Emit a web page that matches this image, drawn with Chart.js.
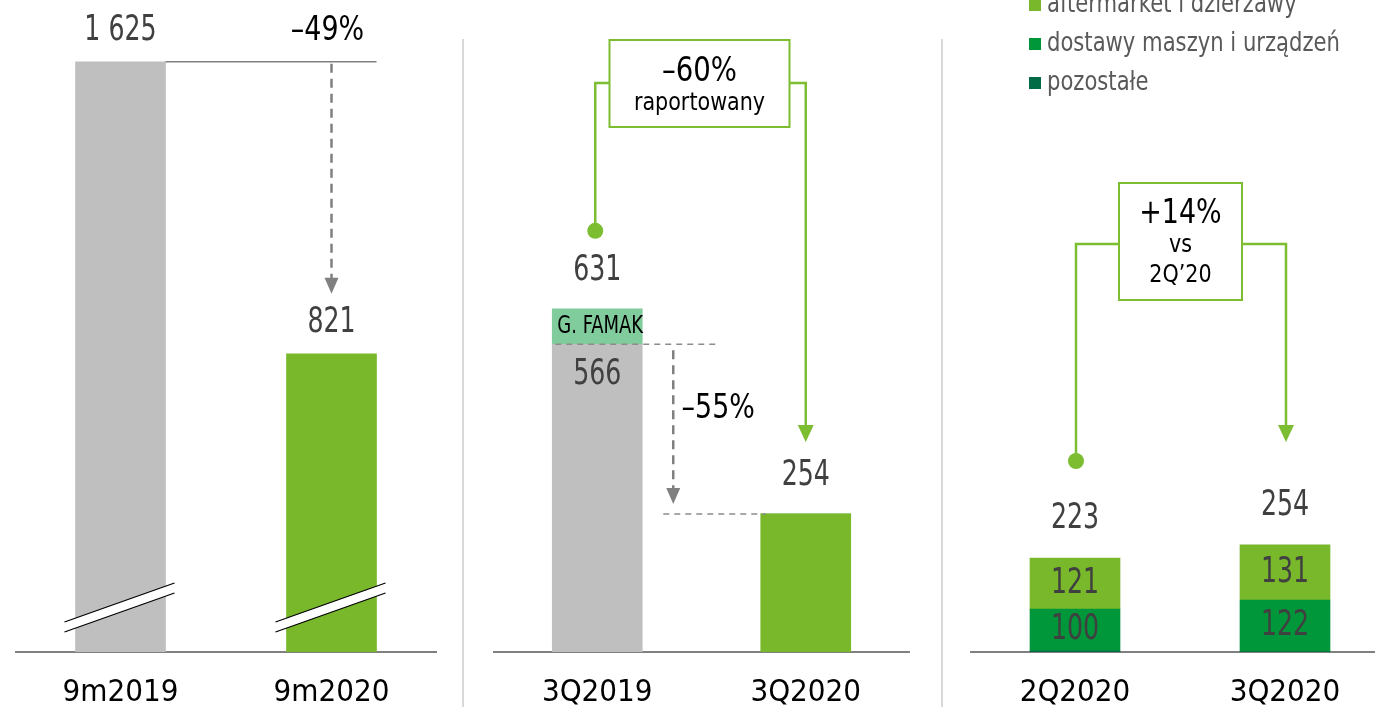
<!DOCTYPE html>
<html>
<head>
<meta charset="utf-8">
<script src="https://cdn.jsdelivr.net/npm/chart.js@4/dist/chart.umd.min.js"></script>
<style>
  html, body { margin: 0; padding: 0; background: #fff; overflow: hidden; }
  body { width: 1375px; height: 707px; position: relative; }
  canvas { position: absolute; top: 0; }
  .divider { position: absolute; top: 39px; width: 2px; height: 668px; background: #d9d9d9; }
</style>
</head>
<body>
<div class="divider" style="left:462px"></div>
<div class="divider" style="left:941px"></div>
<canvas id="c1" width="422" height="707" style="left:15px"></canvas>
<canvas id="c2" width="417" height="707" style="left:493px"></canvas>
<canvas id="c3" width="420" height="707" style="left:970px"></canvas>
<script>
// Dane - panel 1 (9 miesięcy)
const cats1 = ["9m2019", "9m2020"];
const vals1 = [1625, 821];
const valLabels1 = ["1 625", "821"];
const change1 = "–49%";

// Dane - panel 2 (kwartał r/r)
const cats2 = ["3Q2019", "3Q2020"];
const base2 = [566, 254];
const famak2 = [65, 0];
const totals2 = [631, 254];
const change2 = "–60%";
const change2Sub = "raportowany";
const change2Organic = "–55%";

// Dane - panel 3 (kwartał q/q)
const cats3 = ["2Q2020", "3Q2020"];
const aftermarket3 = [121, 131];
const dostawy3 = [100, 122];
const pozostale3 = [2, 1];
const totals3 = [223, 254];
const change3 = ["+14%", "vs", "2Q’20"];
const legendNames = ["aftermarket i dzierżawy", "dostawy maszyn i urządzeń", "pozostałe"];

const FONT = '"DejaVu Sans Condensed", "Liberation Sans Narrow", sans-serif';
const GRAY = "#bfbfbf";
const GREEN = "#78b82a";
const MINT = "#80cc9c";
const MID_GREEN = "#00963a";
const DARK_GREEN = "#006b45";
const LINE_GREEN = "#7cbd32";
const VAL_COLOR = "#404040";

// tekst zwężony poziomo (czcionka oryginału jest wąska)
function txt(ctx, s, x, y, size, color, squeeze = 0.85, align = "center") {
  ctx.save();
  ctx.translate(x, y);
  ctx.scale(squeeze, 1);
  ctx.font = size + "px " + FONT;
  ctx.fillStyle = color;
  ctx.textAlign = align;
  ctx.textBaseline = "middle";
  ctx.fillText(s, 0, 0);
  ctx.restore();
}

function num(ctx, s, x, y) {
  txt(ctx, s, x, y, 36, VAL_COLOR, 0.78);
}

function dashedArrow(ctx, x, y1, y2) {
  ctx.save();
  ctx.strokeStyle = "#808080";
  ctx.fillStyle = "#808080";
  ctx.lineWidth = 2.5;
  ctx.setLineDash([9, 6]);
  ctx.beginPath();
  ctx.moveTo(x, y1);
  ctx.lineTo(x, y2 - 14);
  ctx.stroke();
  ctx.setLineDash([]);
  ctx.beginPath();
  ctx.moveTo(x - 7, y2 - 16);
  ctx.lineTo(x + 7, y2 - 16);
  ctx.lineTo(x, y2);
  ctx.closePath();
  ctx.fill();
  ctx.restore();
}

function dashedLine(ctx, x1, x2, y) {
  ctx.save();
  ctx.strokeStyle = "#8c8c8c";
  ctx.lineWidth = 1.5;
  ctx.setLineDash([6, 5]);
  ctx.beginPath();
  ctx.moveTo(x1, y);
  ctx.lineTo(x2, y);
  ctx.stroke();
  ctx.restore();
}

// ramka z komentarzem i dwie zielone linie (kropka -> strzałka)
function bracket(ctx, box, lineY, xl, dotY, xr, tipY) {
  ctx.save();
  ctx.strokeStyle = LINE_GREEN;
  ctx.fillStyle = LINE_GREEN;
  ctx.lineWidth = 2.5;
  ctx.beginPath();
  ctx.moveTo(box.x, lineY);
  ctx.lineTo(xl, lineY);
  ctx.lineTo(xl, dotY);
  ctx.moveTo(box.x + box.w, lineY);
  ctx.lineTo(xr, lineY);
  ctx.lineTo(xr, tipY - 16);
  ctx.stroke();
  ctx.beginPath();
  ctx.arc(xl, dotY, 8, 0, Math.PI * 2);
  ctx.fill();
  ctx.beginPath();
  ctx.moveTo(xr - 8, tipY - 17);
  ctx.lineTo(xr + 8, tipY - 17);
  ctx.lineTo(xr, tipY);
  ctx.closePath();
  ctx.fill();
  ctx.lineWidth = 2;
  ctx.fillStyle = "#fff";
  ctx.fillRect(box.x, box.y, box.w, box.h);
  ctx.strokeRect(box.x, box.y, box.w, box.h);
  ctx.restore();
}

function breakMark(ctx, x, base) {
  ctx.save();
  ctx.fillStyle = "#fff";
  ctx.strokeStyle = "#000";
  ctx.lineWidth = 1.3;
  ctx.beginPath();
  ctx.moveTo(x - 56, base - 30);
  ctx.lineTo(x + 54, base - 69);
  ctx.lineTo(x + 54, base - 59);
  ctx.lineTo(x - 56, base - 20);
  ctx.closePath();
  ctx.fill();
  ctx.beginPath();
  ctx.moveTo(x - 56, base - 30);
  ctx.lineTo(x + 54, base - 69);
  ctx.moveTo(x - 56, base - 20);
  ctx.lineTo(x + 54, base - 59);
  ctx.stroke();
  ctx.restore();
}

function baseOptions(yMax, stacked) {
  return {
    responsive: false,
    devicePixelRatio: 1,
    animation: false,
    layout: { padding: 0 },
    plugins: { legend: { display: false }, tooltip: { enabled: false } },
    scales: {
      x: {
        stacked: stacked,
        grid: { display: false, drawTicks: false },
        border: { display: true, color: "#808080", width: 2 },
        ticks: { color: "#000", padding: 22, font: { family: FONT, size: 31 } },
        afterFit: (scale) => { scale.height = 55; }
      },
      y: { stacked: stacked, display: false, min: 0, max: yMax }
    }
  };
}

// Panel 1
new Chart(document.getElementById("c1"), {
  type: "bar",
  data: {
    labels: cats1,
    datasets: [{ data: vals1, backgroundColor: [GRAY, GREEN], barThickness: 90 }]
  },
  options: baseOptions(1795, false),
  plugins: [{
    id: "notes1",
    afterDatasetsDraw(chart) {
      const ctx = chart.ctx, xs = chart.scales.x, ys = chart.scales.y;
      const base = ys.getPixelForValue(0);
      const x0 = xs.getPixelForValue(0), x1 = xs.getPixelForValue(1);
      const top0 = ys.getPixelForValue(vals1[0]), top1 = ys.getPixelForValue(vals1[1]);
      breakMark(ctx, x0, base);
      breakMark(ctx, x1, base);
      ctx.save();
      ctx.strokeStyle = "#808080";
      ctx.lineWidth = 1.5;
      ctx.beginPath();
      ctx.moveTo(x0 + 45, top0);
      ctx.lineTo(x1 + 45, top0);
      ctx.stroke();
      ctx.restore();
      dashedArrow(ctx, x1, top0 + 2, top1 - 60);
      valLabels1.forEach((s, i) => num(ctx, s, xs.getPixelForValue(i), ys.getPixelForValue(vals1[i]) - 31));
      txt(ctx, change1, x1 - 4, top0 - 31, 34, "#000", 0.88);
    }
  }]
});

// Panel 2
new Chart(document.getElementById("c2"), {
  type: "bar",
  data: {
    labels: cats2,
    datasets: [
      { data: base2, backgroundColor: [GRAY, GREEN], barThickness: 90 },
      { data: famak2, backgroundColor: MINT, barThickness: 90 }
    ]
  },
  options: baseOptions(1199, true),
  plugins: [{
    id: "notes2",
    afterDatasetsDraw(chart) {
      const ctx = chart.ctx, xs = chart.scales.x, ys = chart.scales.y;
      const x0 = xs.getPixelForValue(0), x1 = xs.getPixelForValue(1);
      const yBase0 = ys.getPixelForValue(base2[0]);
      const yTot0 = ys.getPixelForValue(totals2[0]);
      const yTot1 = ys.getPixelForValue(totals2[1]);
      dashedLine(ctx, x0 - 42, x0 + 122, yBase0);
      dashedLine(ctx, x0 + 66, x1 - 40, yTot1);
      dashedArrow(ctx, x0 + 76, yBase0 + 6, yTot1 - 10);
      txt(ctx, change2Organic, x0 + 121, (yBase0 + yTot1) / 2 - 20, 34, "#000", 0.88);
      txt(ctx, "G. FAMAK", x0 + 3, (yTot0 + yBase0) / 2, 25, "#000", 0.8);
      num(ctx, String(base2[0]), x0, yBase0 + 30);
      totals2.forEach((v, i) => num(ctx, String(v), xs.getPixelForValue(i), ys.getPixelForValue(v) - 38));
      const box = { x: (x0 + x1) / 2 - 92, y: 40, w: 180, h: 87 };
      bracket(ctx, box, 83, x0 - 2, yTot0 - 78, x1, yTot1 - 72);
      txt(ctx, change2, box.x + box.w / 2, 72, 34, "#000", 0.9);
      txt(ctx, change2Sub, box.x + box.w / 2, 103, 25, "#000", 0.92);
    }
  }]
});

// Panel 3
new Chart(document.getElementById("c3"), {
  type: "bar",
  data: {
    labels: cats3,
    datasets: [
      { label: legendNames[2], data: pozostale3, backgroundColor: DARK_GREEN, barThickness: 90 },
      { label: legendNames[1], data: dostawy3, backgroundColor: MID_GREEN, barThickness: 90 },
      { label: legendNames[0], data: aftermarket3, backgroundColor: GREEN, barThickness: 90 }
    ]
  },
  options: baseOptions(1547, true),
  plugins: [{
    id: "notes3",
    afterDatasetsDraw(chart) {
      const ctx = chart.ctx, xs = chart.scales.x, ys = chart.scales.y;
      const x0 = xs.getPixelForValue(0), x1 = xs.getPixelForValue(1);
      // etykiety w segmentach
      [1, 2].forEach((di) => {
        chart.getDatasetMeta(di).data.forEach((bar, j) => {
          const v = chart.data.datasets[di].data[j];
          num(ctx, String(v), bar.x, (bar.y + bar.base) / 2);
        });
      });
      totals3.forEach((v, i) => num(ctx, String(v), xs.getPixelForValue(i), ys.getPixelForValue(v) - 39));
      const yT0 = ys.getPixelForValue(totals3[0]), yT1 = ys.getPixelForValue(totals3[1]);
      const box = { x: (x0 + x1) / 2 - 61, y: 183, w: 123, h: 117 };
      bracket(ctx, box, 244, x0 + 1, yT0 - 97, x1 + 1, yT1 - 103);
      const cx = box.x + box.w / 2;
      txt(ctx, change3[0], cx, 214, 34, "#000", 0.88);
      txt(ctx, change3[1], cx, 245, 25, "#000", 0.92);
      txt(ctx, change3[2], cx, 275, 25, "#000", 0.92);
      // legenda
      const order = [2, 1, 0];
      order.forEach((di, k) => {
        const ds = chart.data.datasets[di];
        const y = 5 + k * 39;
        ctx.fillStyle = ds.backgroundColor;
        ctx.fillRect(59, y - 6, 12, 12);
        txt(ctx, ds.label, 77, y, 27, "#595959", 0.87, "left");
      });
    }
  }]
});
</script>
</body>
</html>
